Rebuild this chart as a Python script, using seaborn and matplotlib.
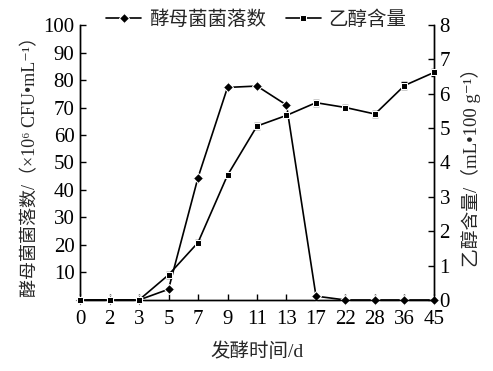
import matplotlib
matplotlib.use("Agg")
import matplotlib.pyplot as plt
import seaborn as sns
import numpy as np
import pandas as pd

days = ["0", "2", "3", "5", "7", "9", "11", "13", "17", "22", "28", "36", "45"]
yeast = [0, 0, 0, 3.9, 44.5, 77.3, 77.8, 70.9, 1.4, 0, 0, 0, 0]
ethanol = [0, 0, 0, 0.73, 1.67, 3.63, 5.06, 5.37, 5.74, 5.60, 5.41, 6.24, 6.62]
ethanol_err = [0, 0, 0, 0.08, 0.08, 0.04, 0.09, 0.05, 0.09, 0.06, 0.09, 0.1, 0.09]
left_ticks = [10, 20, 30, 40, 50, 60, 70, 80, 90, 100]
right_ticks = [0, 1, 2, 3, 4, 5, 6, 7, 8]

sns.set_theme(style="ticks")
serif = ["Liberation Serif", "Noto Sans CJK SC", "DejaVu Serif"]
plt.rcParams["font.family"] = serif

fig = plt.figure(figsize=(4.93, 3.71), dpi=100)
ax = fig.add_axes([0.1623, 0.1914, 0.8803 - 0.1623, 0.9326 - 0.1914])
ax2 = ax.twinx()

df = pd.DataFrame({"day": days, "yeast": yeast, "ethanol": ethanol})

sns.lineplot(data=df, x="day", y="yeast", ax=ax, color="black", marker="D",
             markersize=5.5, linewidth=1.2, sort=False, label="酵母菌菌落数",
             legend=False, clip_on=False, zorder=3)
sns.lineplot(data=df, x="day", y="ethanol", ax=ax2, color="black", marker="s",
             markersize=5, linewidth=1.2, sort=False, label="乙醇含量",
             legend=False, clip_on=False, zorder=3)
ax2.errorbar(np.arange(len(days)), ethanol, yerr=ethanol_err, fmt="none",
             ecolor="black", elinewidth=1.0, capsize=2.5, capthick=1.0)

ax.set_xlim(0, len(days) - 1)
ax.set_ylim(0, 100)
ax2.set_ylim(0, 8)
ax.set_xticks(range(len(days)))
ax.set_xticklabels(days)
ax.set_yticks(left_ticks)
ax2.set_yticks(right_ticks)

for a in (ax, ax2):
    for s in a.spines.values():
        s.set_linewidth(1.0)
        s.set_color("black")
ax.spines["top"].set_visible(False)
ax2.spines["top"].set_visible(False)
ax.tick_params(axis="both", direction="in", length=4, width=1.0, labelsize=15,
               colors="black", pad=4)
ax2.tick_params(axis="y", direction="in", length=4, width=1.0, labelsize=15,
                colors="black", pad=4)
ax.tick_params(axis="x", pad=7)

ax.set_xlabel("发酵时间/d", fontsize=14, labelpad=10)
ax.set_ylabel("酵母菌菌落数/（×10⁶ CFU•mL⁻¹）", fontsize=13, labelpad=3)
ax2.set_ylabel("乙醇含量/（mL•100 g⁻¹）", fontsize=13.5, labelpad=8,
               rotation=90)

h1, l1 = ax.get_legend_handles_labels()
h2, l2 = ax2.get_legend_handles_labels()
leg = fig.legend(h1 + h2, l1 + l2, loc="upper center", bbox_to_anchor=(0.52, 1.02),
                 ncol=2, frameon=False, prop={"size": 14},
                 handlelength=1.8, columnspacing=1.0, handletextpad=0.4)

fig.savefig("out.png", dpi=100)
